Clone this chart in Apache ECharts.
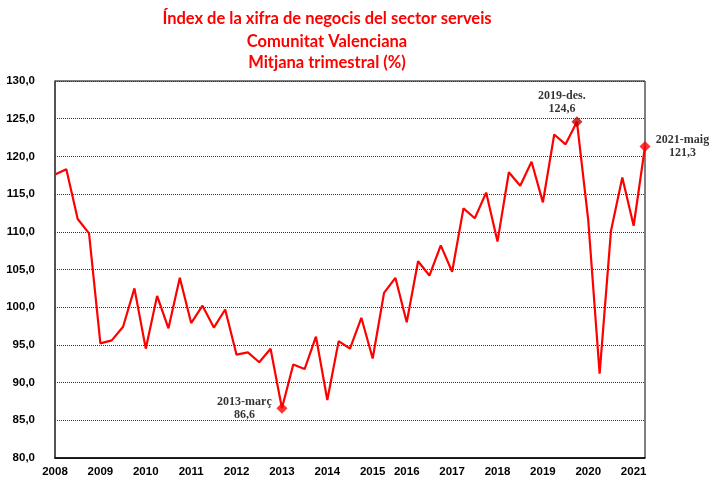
<!DOCTYPE html>
<html>
<head>
<meta charset="utf-8">
<script src="https://cdn.jsdelivr.net/npm/echarts@6/dist/echarts.min.js"></script>
<style>
html,body{margin:0;padding:0;background:#fff;}
#chart{width:709px;height:478px;}
</style>
</head>
<body>
<div id="chart"></div>
<script>
// Periods (quarterly averages, label on the March point of each year)
const categories = [
  '2008-març','2008-juny','2008-set.','2008-des.',
  '2009-març','2009-juny','2009-set.','2009-des.',
  '2010-març','2010-juny','2010-set.','2010-des.',
  '2011-març','2011-juny','2011-set.','2011-des.',
  '2012-març','2012-juny','2012-set.','2012-des.',
  '2013-març','2013-juny','2013-set.','2013-des.',
  '2014-març','2014-juny','2014-set.','2014-des.',
  '2015-març','2015-juny','2015-set.',
  '2016-març','2016-juny','2016-set.','2016-des.',
  '2017-març','2017-juny','2017-set.','2017-des.',
  '2018-març','2018-juny','2018-set.','2018-des.',
  '2019-març','2019-juny','2019-set.','2019-des.',
  '2020-març','2020-juny','2020-set.','2020-des.',
  '2021-març','2021-maig'
];
const values = [
  117.6,118.3,111.7,109.8,
  95.2,95.6,97.4,102.5,
  94.5,101.5,97.2,103.9,
  97.9,100.2,97.3,99.7,
  93.7,94.0,92.7,94.5,
  86.6,92.4,91.8,96.1,
  87.7,95.5,94.5,98.6,
  93.2,101.9,103.9,
  98.0,106.1,104.2,108.2,
  104.7,113.1,111.8,115.2,
  108.7,117.9,116.1,119.3,
  113.9,122.9,121.6,124.6,
  111.5,91.2,110.1,117.2,
  110.8,121.3
];
const yTicks = {min: 80, max: 130, step: 5};
const titleLines = [
  'Índex de la xifra de negocis del sector serveis',
  'Comunitat Valenciana',
  'Mitjana trimestral (%)'
];
const highlights = ['2013-març', '2019-des.', '2021-maig'];

const fmt = v => v.toFixed(1).replace('.', ',');
const labelFont = {fontFamily: '"Liberation Serif", "Times New Roman", serif', fontWeight: 'bold', fontSize: 12, color: '#000', lineHeight: 13};
const axisFont = '"Liberation Sans Narrow", "Liberation Sans", sans-serif';

const hlStyles = {
  '2013-març': {color: '#FF0000', label: {position: 'left', align: 'center', distance: 32}},
  '2019-des.': {color: '#C00000', label: {position: 'top', align: 'center', distance: 1, offset: [-15, 0]}},
  '2021-maig': {color: '#FF0000', label: {position: 'right', align: 'center', distance: 32}}
};

const hlData = highlights.map(c => {
  const v = values[categories.indexOf(c)];
  const s = hlStyles[c];
  return {
    value: [c, v],
    itemStyle: {color: s.color},
    label: Object.assign({show: true, formatter: c + '\n' + fmt(v)}, labelFont, s.label)
  };
});

const chart = echarts.init(document.getElementById('chart'), null, {renderer: 'canvas'});
chart.setOption({
  animation: false,
  backgroundColor: '#fff',
  graphic: titleLines.map((t, i) => ({
    type: 'text',
    x: 327, y: [19, 42, 63][i],
    style: {
      text: t, fill: '#FF0000', textAlign: 'center', textVerticalAlign: 'middle',
      font: 'bold 16.5px Lato, "Open Sans", sans-serif'
    }
  })),
  grid: {left: 55, top: 81, width: 590, height: 380, show: true, borderColor: '#000', borderWidth: 1},
  xAxis: {
    type: 'category', boundaryGap: false, data: categories,
    axisLine: {lineStyle: {color: '#000', width: 1.5}},
    axisTick: {show: false},
    axisLabel: {
      interval: (i, v) => v.endsWith('-març'),
      formatter: v => v.split('-')[0],
      margin: 8, color: '#000', fontWeight: 'bold', fontSize: 11.5,
      fontFamily: axisFont
    },
    splitLine: {show: false}
  },
  yAxis: {
    type: 'value', min: yTicks.min, max: yTicks.max, interval: yTicks.step,
    axisLine: {show: true, lineStyle: {color: '#444', width: 1.5}},
    axisTick: {show: false},
    axisLabel: {
      formatter: v => fmt(v), margin: 20, color: '#000', fontWeight: 'bold', fontSize: 11.5,
      fontFamily: axisFont
    },
    splitLine: {show: true, lineStyle: {color: '#333', type: 'dotted', width: 1}}
  },
  series: [
    {
      type: 'line', data: values, symbol: 'none',
      lineStyle: {color: '#FF0000', width: 2.2}, z: 3
    },
    {
      type: 'scatter', data: hlData, symbol: 'diamond', symbolSize: 11, z: 4
    }
  ]
});
</script>
</body>
</html>
